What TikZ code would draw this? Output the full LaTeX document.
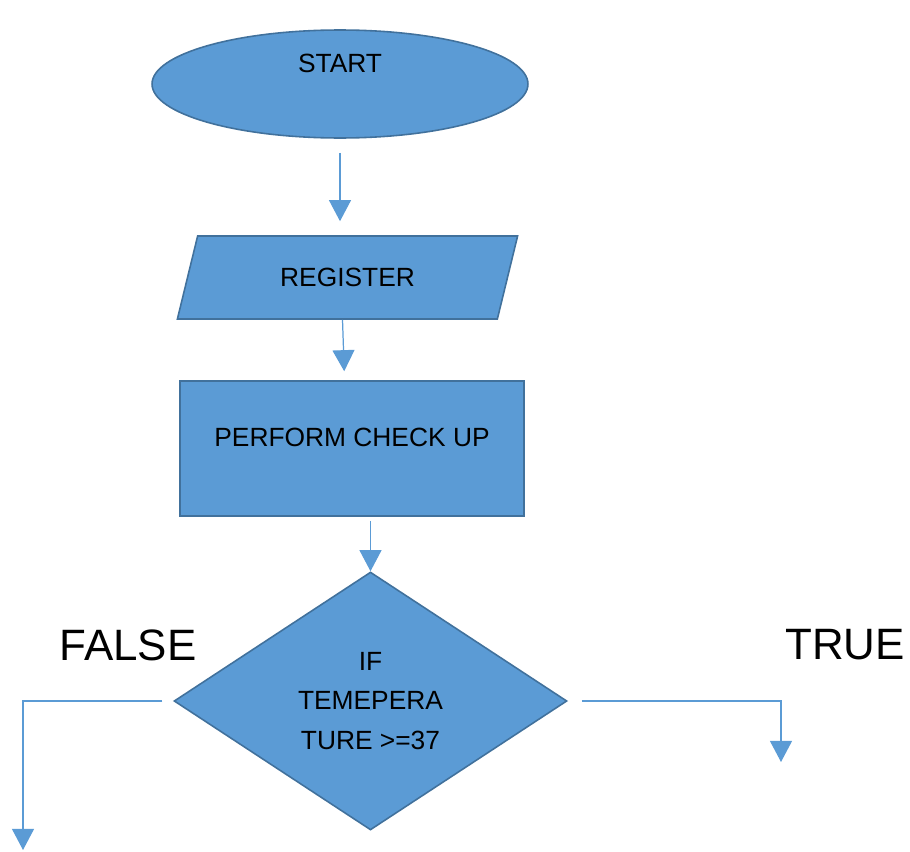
\documentclass[tikz,border=0pt]{standalone}
\usepackage{fontspec}
\setmainfont{Liberation Sans}
\usetikzlibrary{shapes.geometric,arrows.meta}

\definecolor{boxfill}{RGB}{91,155,213}
\definecolor{boxline}{RGB}{65,113,156}

\tikzset{
  shapebox/.style={fill=boxfill,draw=boxline,line width=0.9pt,inner sep=0pt,font=\fontsize{15}{22.7}\selectfont},
  flow/.style={draw=boxfill,line width=0.7pt,-{Triangle[width=12.5pt,length=12pt]}},
  branch/.style={font=\fontsize{25}{30}\selectfont}
}

\begin{document}
\begin{tikzpicture}[x=0.02cm,y=-0.02cm]
\useasboundingbox (0,0) rectangle (910,852);

		\node[shapebox,shape=ellipse,minimum width=7.52cm,minimum height=2.16cm,
		      label={[yshift=0.42cm,font=\fontsize{15}{18}\selectfont]center:START}] (start) at (340, 84) {};
		\node[shapebox,shape=trapezium,trapezium stretches=true,trapezium left angle=64,trapezium right angle=116,
		      minimum width=6.86cm,minimum height=1.66cm] (reg) at (347.5, 277.5) {REGISTER};
		\node[shapebox,shape=rectangle,minimum width=6.88cm,minimum height=2.7cm,
		      label={[yshift=0.22cm,font=\fontsize{15}{18}\selectfont]center:PERFORM CHECK UP}] (check) at (352, 448.5) {};
		\node[shapebox,shape=diamond,minimum width=7.86cm,minimum height=5.16cm,align=center] (temp) at (370.5, 701) {IF\\TEMEPERA\\TURE >=37};

		\node[branch] (false) at (128, 645) {FALSE};
		\node[branch] (true) at (845, 645) {TRUE};

		\coordinate (falseend) at (23, 850);
		\coordinate (trueend) at (781, 762);

		\draw[flow,shorten <=0.28cm,shorten >=0.28cm] (start.south) -- (start.south |- reg.north);
		\draw[flow,shorten >=0.18cm] ([xshift=-0.1cm]reg.south) -- ([xshift=-0.06cm]reg.south |- check.north);
		\draw[flow,shorten <=0.08cm] (temp.north |- check.south) -- (temp.north);
		\draw[flow] ([xshift=-0.22cm]temp.west) -| (falseend);
		\draw[flow] ([xshift=0.28cm]temp.east) -| (trueend);

\end{tikzpicture}
\end{document}
